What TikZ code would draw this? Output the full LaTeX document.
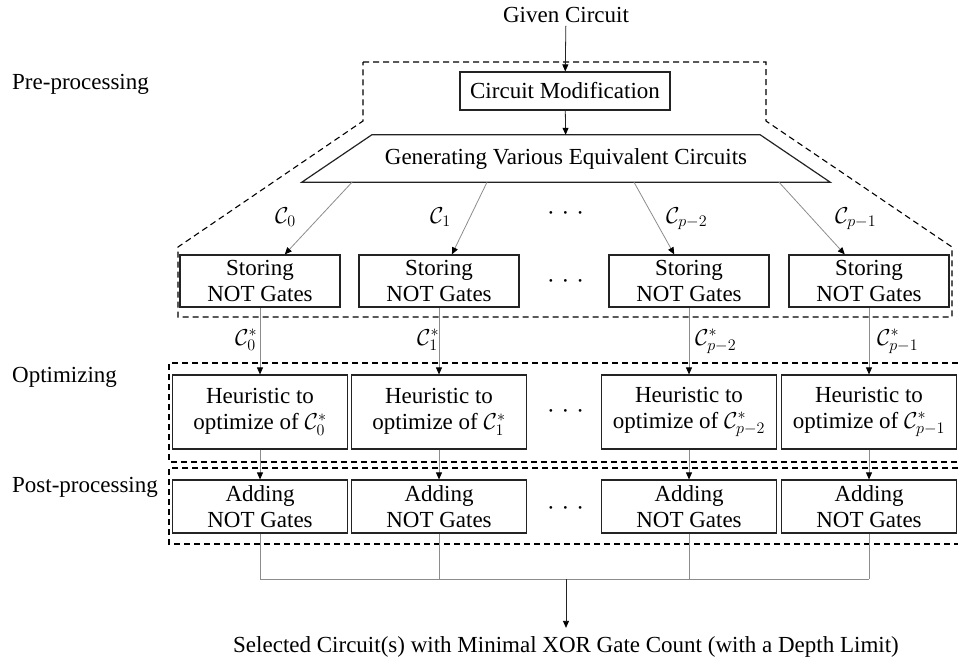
\RequirePackage{fix-cm}
\documentclass[tikz,border=0pt]{standalone}
\usepackage{fontspec}
\setmainfont{Liberation Serif}
\usetikzlibrary{arrows.meta,positioning,calc}
\definecolor{ink}{RGB}{35,35,35}
\definecolor{wire}{RGB}{140,140,140}
\tikzset{
  >={Triangle[length=7pt,width=6pt,color=black]},
  stage/.style={draw=ink,line width=1.2pt,fill=white,minimum width=#1,
    align=center,inner sep=0pt},
  stage/.default=175pt,
  flow/.style={->,line width=0.8pt,draw=#1},
  flow/.default=wire,
  phase/.style={draw=black,line width=1.1pt,dash pattern=on 6pt off 4pt},
  tag/.style={anchor=base west,inner sep=0pt},
  dots/.style={anchor=base,inner sep=0pt},
}

\begin{document}
\begin{tikzpicture}[x=1pt,y=-1pt,every node/.style={font=\fontsize{23}{26}\selectfont}]
  \useasboundingbox (0,0) rectangle (958,662);
  % phases
  \node[tag] (pre) at (12,89) {Pre-processing};
  \node[tag] (opt) at (12,382) {Optimizing};
  \node[tag] (post) at (12,492) {Post-processing};
  \draw[phase] (363,62) -- (766,62) -- (766,121) -- (952,247) -- (952,317)
    -- (178,317) -- (178,247) -- (363,121) -- cycle;
  \draw[phase] (958,363) -- (169,363) -- (169,462) -- (958,462);
  \draw[phase] (958,468) -- (169,468) -- (169,544) -- (958,544);

  \node[anchor=base] (given) at (566,22) {Given Circuit};
  \node[stage=210pt,minimum height=38pt] (mod) at (565,91) {Circuit Modification};
  \node[minimum width=388pt,minimum height=47pt,inner sep=0pt] (gen) at (566,158.5)
    {Generating Various Equivalent Circuits};
  \draw[ink,line width=1.2pt] (gen.north west) -- (gen.north east)
    -- ([xshift=70pt]gen.south east) -- ([xshift=-70pt]gen.south west) -- cycle;
  \draw[flow=ink] (given) -- (mod);
  \draw[flow=ink] (mod) -- (gen);

  \coordinate (m) at (566,579);
  \foreach \x/\s/\d [count=\i from 0] in {260/0/-214,439/1/-79,689/{p-2}/68,869/{p-1}/213}
  {
    \node[stage=160pt,minimum height=52pt] (s\i) at (\x,281) {Storing\\NOT Gates};
    \node[stage,minimum height=74pt] (h\i) at (\x,412) {Heuristic to\\optimize of $\mathcal{C}^*_{\s}$};
    \node[stage,minimum height=53pt] (a\i) at (\x,506.5) {Adding\\NOT Gates};
    \draw[flow] ([xshift=\d pt]gen.south) -- (s\i);
    \draw[flow] (s\i) -- (h\i);
    \draw[flow] (h\i) -- (a\i);
    \draw[wire,line width=0.8pt] (a\i.south) -- (a\i.south |- m);
  }
  \draw[wire,line width=0.8pt] (a0.south |- m) -- (a3.south |- m);

  \foreach \x/\s [count=\i from 0] in {275/0,430/1,666/{p-2},835/{p-1}}
    \node[tag] (c\i) at (\x,223) {$\mathcal{C}_{\s}$};
  \foreach \x/\s [count=\i from 0] in {235/0,417/1,695/{p-2},877/{p-1}}
    \node[tag] (cs\i) at (\x,345) {$\mathcal{C}^*_{\s}$};
  \foreach \y [count=\i] in {220,288,418,515}
    \node[dots] (dots\i) at (565.5,\y) {·\hspace{7pt}·\hspace{7pt}·};

  \node[anchor=base,inner ysep=8pt] (res) at (566,652)
    {Selected Circuit(s) with Minimal XOR Gate Count (with a Depth Limit)};
  \draw[flow=ink] (m) -- (res);
\end{tikzpicture}
\end{document}
